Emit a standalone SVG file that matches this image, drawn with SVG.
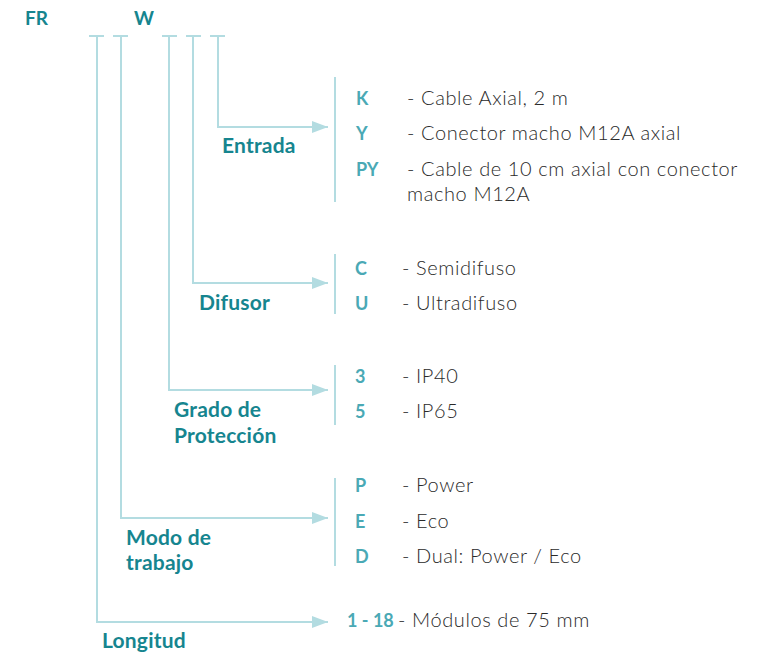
<svg xmlns="http://www.w3.org/2000/svg" width="765" height="657" viewBox="0 0 765 657">
<defs>
<style>
.lbl{font-family:Lato,"Noto Sans","Liberation Sans",sans-serif;font-weight:700;font-size:21px;letter-spacing:0.2px;fill:#16858f}
.hd{font-family:Lato,"Noto Sans","Liberation Sans",sans-serif;font-weight:700;font-size:19px;fill:#16858f}
.code{font-family:Lato,"Noto Sans","Liberation Sans",sans-serif;font-weight:700;font-size:18px;fill:#4aa9b5}
.desc{font-family:Lato,"Noto Sans","Liberation Sans",sans-serif;font-weight:300;font-size:20px;letter-spacing:0.6px;fill:#2a2a2a}
.ln{stroke:#b3dce1;stroke-width:2;fill:none}
</style>
<marker id="ah2" markerWidth="16" markerHeight="12" refX="16" refY="6" orient="auto" markerUnits="userSpaceOnUse" viewBox="0 0 16 12">
<path d="M0,0 L16,6 L0,12 Z" fill="#b3dce1"/>
</marker>
</defs>
<rect width="765" height="657" fill="#ffffff"/>

<g id="code">
<text class="hd" x="25" y="25">FR</text>
<text class="hd" x="134" y="25">W</text>
</g>

<g id="connectors">
<path class="ln" d="M89 36H104 M113 36H128 M162 36H177 M186 36H201 M210 36H225"/>
<path class="ln" d="M218 36V127H328" marker-end="url(#ah2)"/>
<path class="ln" d="M193 36V283H328" marker-end="url(#ah2)"/>
<path class="ln" d="M169 36V390H328" marker-end="url(#ah2)"/>
<path class="ln" d="M121 36V518H328" marker-end="url(#ah2)"/>
<path class="ln" d="M97 36V622H328" marker-end="url(#ah2)"/>
<path class="ln" d="M335 77V202 M335 254V314 M335 365V425 M335 478V566"/>
</g>

<g id="entrada">
<text class="lbl" x="222" y="153">Entrada</text>
<text class="code" x="356" y="105">K</text>
<text class="desc" x="407" y="105">- Cable Axial, 2 m</text>
<text class="code" x="356" y="140">Y</text>
<text class="desc" x="407" y="140">- Conector macho M12A axial</text>
<text class="code" x="356" y="176">PY</text>
<text class="desc" x="407" y="176">- Cable de 10 cm axial con conector</text>
<text class="desc" x="407" y="201">macho M12A</text>
</g>

<g id="difusor">
<text class="lbl" x="199" y="310">Difusor</text>
<text class="code" x="355" y="275">C</text>
<text class="desc" x="402" y="275">- Semidifuso</text>
<text class="code" x="355" y="310">U</text>
<text class="desc" x="402" y="310">- Ultradifuso</text>
</g>

<g id="grado">
<text class="lbl" x="174" y="417">Grado de</text>
<text class="lbl" x="174" y="443">Protección</text>
<text class="code" x="355" y="383">3</text>
<text class="desc" x="402" y="383">- IP40</text>
<text class="code" x="355" y="418">5</text>
<text class="desc" x="402" y="418">- IP65</text>
</g>

<g id="modo">
<text class="lbl" x="126" y="545">Modo de</text>
<text class="lbl" x="126" y="570">trabajo</text>
<text class="code" x="355" y="492">P</text>
<text class="desc" x="402" y="492">- Power</text>
<text class="code" x="355" y="528">E</text>
<text class="desc" x="402" y="528">- Eco</text>
<text class="code" x="355" y="563">D</text>
<text class="desc" x="402" y="563">- Dual: Power / Eco</text>
</g>

<g id="longitud">
<text class="lbl" x="102" y="648">Longitud</text>
<text class="code" x="347" y="627">1 - 18</text>
<text class="desc" x="398" y="627">- Módulos de 75 mm</text>
</g>
</svg>
